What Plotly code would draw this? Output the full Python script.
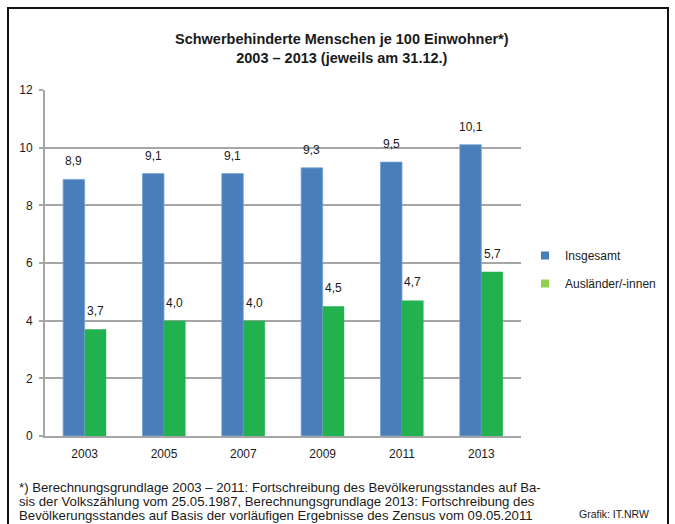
import plotly.graph_objects as go

years = ["2003", "2005", "2007", "2009", "2011", "2013"]
insgesamt = [8.9, 9.1, 9.1, 9.3, 9.5, 10.1]
auslaender = [3.7, 4.0, 4.0, 4.5, 4.7, 5.7]
series_names = ["Insgesamt", "Ausländer/-innen"]
y_ticks = [0, 2, 4, 6, 8, 10, 12]

BLUE = "#4a7ebb"
GREEN = "#21b14f"
GREEN_LEG = "#8fd14f"
FONT = "Liberation Sans, Arial, sans-serif"
TXT = "#1a1a1a"

W, H = 675, 524
ML, MR, MT, MB = 45, 154, 90, 88
BARGAP = 0.457
plot_w = W - ML - MR
plot_h = H - MT - MB
cat_px = plot_w / len(years)
bar_px = cat_px * (1 - BARGAP) / 2


def px_x(p):
    return (p - ML) / plot_w


def px_y(p):
    return (H - MB - p) / plot_h


fig = go.Figure()
fig.add_trace(go.Bar(x=years, y=insgesamt, name=series_names[0],
                     marker=dict(color=BLUE, line=dict(color="#7aa3d6", width=0.8)), showlegend=False))
fig.add_trace(go.Bar(x=years, y=auslaender, name=series_names[1],
                     marker=dict(color=GREEN, line=dict(width=0)), showlegend=False))
# legend entries
fig.add_trace(go.Scatter(x=[years[0]], y=[None], mode="markers", name=series_names[0], legendgroup="a",
                         marker=dict(symbol="square", size=8, color=BLUE)))
fig.add_trace(go.Scatter(x=[years[0]], y=[None], mode="markers", name=series_names[1], legendgroup="b",
                         marker=dict(symbol="square", size=8, color=GREEN_LEG)))


def fmt(v):
    return f"{v:.1f}".replace(".", ",")


for vals, sign in ((insgesamt, -1), (auslaender, 1)):
    for i, v in enumerate(vals):
        fig.add_annotation(x=i, y=v, text=fmt(v), showarrow=False, xref="x", yref="y",
                           yanchor="bottom", yshift=9, xshift=sign * bar_px / 2,
                           font=dict(family=FONT, size=12, color=TXT))

# title
fig.add_annotation(text="<b>Schwerbehinderte Menschen je 100 Einwohner*)</b><br><b>2003 – 2013 (jeweils am 31.12.)</b>",
                   xref="paper", yref="paper", x=px_x(342), y=px_y(49),
                   xanchor="center", yanchor="middle", showarrow=False,
                   font=dict(family=FONT, size=14.5, color=TXT))

footnote_lines = [
    "*) Berechnungsgrundlage 2003 – 2011: Fortschreibung des Bevölkerungsstandes auf Ba-",
    "sis der Volkszählung vom 25.05.1987, Berechnungsgrundlage 2013: Fortschreibung des",
    "Bevölkerungsstandes auf Basis der vorläufigen Ergebnisse des Zensus vom 09.05.2011",
]
for i, line in enumerate(footnote_lines):
    fig.add_annotation(text=line, xref="paper", yref="paper", x=px_x(17), y=px_y(487 + 14 * i),
                       xanchor="left", yanchor="middle", align="left", showarrow=False,
                       font=dict(family=FONT, size=13.2, color=TXT))
fig.add_annotation(text="Grafik: IT.NRW", xref="paper", yref="paper", x=px_x(577), y=px_y(514),
                   xanchor="left", yanchor="middle", showarrow=False,
                   font=dict(family=FONT, size=10.5, color=TXT))

# frame
fig.add_shape(type="rect", xref="paper", yref="paper", x0=px_x(8), x1=px_x(668), y0=px_y(540), y1=px_y(8),
              line=dict(color="#111111", width=2), fillcolor="rgba(0,0,0,0)", layer="above")

fig.update_layout(
    width=W, height=H,
    margin=dict(l=ML, r=MR, t=MT, b=MB),
    barmode="group", bargap=BARGAP, bargroupgap=0,
    paper_bgcolor="white", plot_bgcolor="white",
    font=dict(family=FONT, size=12, color=TXT),
    legend=dict(x=px_x(525), y=px_y(241), xanchor="left", yanchor="top", tracegroupgap=9,
                itemwidth=30, font=dict(family=FONT, size=12, color=TXT), bgcolor="rgba(0,0,0,0)"),
    xaxis=dict(type="category", categoryorder="array", categoryarray=years, range=[-0.5, len(years) - 0.5],
               showgrid=False, showline=True, linecolor="#a6a6a6", linewidth=2,
               ticks="", tickfont=dict(family=FONT, size=12, color=TXT), ticklabelstandoff=6),
    yaxis=dict(range=[0, 12], tickvals=y_ticks, showgrid=True, gridcolor="#a6a6a6", gridwidth=1.5,
               zeroline=False, showline=True, linecolor="#a6a6a6", linewidth=2,
               ticks="outside", ticklen=4, tickcolor="#a6a6a6", tickwidth=1.5, ticklabelstandoff=4,
               tickfont=dict(family=FONT, size=12, color=TXT)),
)

fig.write_html("out.html", config={"displayModeBar": False},
               post_script="document.body.style.margin='0';document.body.style.overflow='hidden';")
